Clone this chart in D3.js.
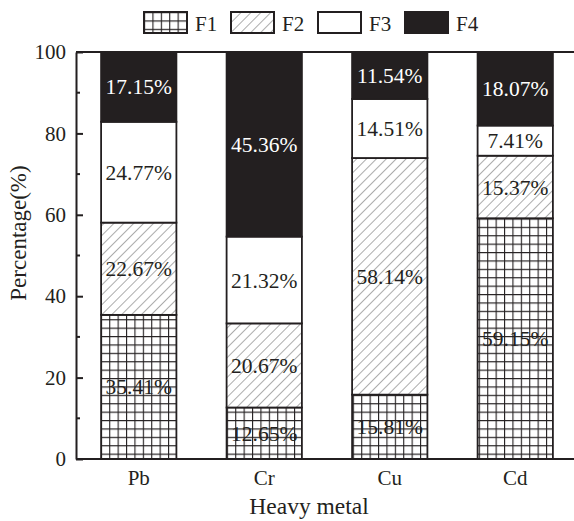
<!DOCTYPE html>
<html>
<head>
<meta charset="utf-8">
<script src="https://cdn.jsdelivr.net/npm/d3@7"></script>
<style>
  html, body { margin: 0; padding: 0; background: #fff; }
  svg { display: block; }
</style>
</head>
<body>
<svg id="chart" width="574" height="521"></svg>
<script>
// Fractions of each heavy metal (%), stacked F1..F4
const metals = ["Pb", "Cr", "Cu", "Cd"];
const fractions = ["F1", "F2", "F3", "F4"];
const f1 = [35.41, 12.65, 15.81, 59.15];
const f2 = [22.67, 20.67, 58.14, 15.37];
const f3 = [24.77, 21.32, 14.51, 7.41];
const f4 = [17.15, 45.36, 11.54, 18.07];
const yTicks = [0, 20, 40, 60, 80, 100];
const yMinorTicks = [10, 30, 50, 70, 90];

const ink = "#231f20";
const serif = '"Liberation Serif", "Times New Roman", serif';
const svg = d3.select("#chart");

const margin = { left: 76, top: 52, right: -4, bottom: 62 };
const W = 574, H = 521;

const x = d3.scaleBand()
  .domain(metals)
  .range([margin.left, W - margin.right])
  .paddingInner(0.4)
  .paddingOuter(0.2);
const y = d3.scaleLinear().domain([0, 100]).range([H - margin.bottom, margin.top]);

// Fill patterns
const defs = svg.append("defs");
const grid = defs.append("pattern")
  .attr("id", "grid").attr("patternUnits", "userSpaceOnUse")
  .attr("width", 8.4).attr("height", 8.4);
grid.append("rect").attr("width", 8.4).attr("height", 8.4).attr("fill", "#fff");
grid.append("path").attr("d", "M0,0.5H8.4M0.5,0V8.4")
  .attr("stroke", ink).attr("stroke-width", 1.2);

const hatch = defs.append("pattern")
  .attr("id", "hatch").attr("patternUnits", "userSpaceOnUse")
  .attr("width", 7).attr("height", 7)
  .attr("patternTransform", "rotate(45)");
hatch.append("rect").attr("width", 7).attr("height", 7).attr("fill", "#fff");
hatch.append("path").attr("d", "M0,0V7")
  .attr("stroke", "#5a5a5a").attr("stroke-width", 1);

const fills = { F1: "url(#grid)", F2: "url(#hatch)", F3: "#fff", F4: ink };
const textFill = { F1: ink, F2: ink, F3: ink, F4: "#fff" };

// Stack the series
const rows = metals.map((m, i) => ({ metal: m, F1: f1[i], F2: f2[i], F3: f3[i], F4: f4[i] }));
const stack = d3.stack().keys(fractions)(rows);

const layers = svg.append("g").selectAll("g")
  .data(stack).join("g");

layers.selectAll("rect")
  .data(s => s.map(d => ({ key: s.key, d })))
  .join("rect")
  .attr("x", o => x(o.d.data.metal))
  .attr("width", x.bandwidth())
  .attr("y", o => y(o.d[1]))
  .attr("height", o => y(o.d[0]) - y(o.d[1]))
  .attr("fill", o => fills[o.key])
  .attr("stroke", ink)
  .attr("stroke-width", 1.8);

layers.selectAll("text")
  .data(s => s.map(d => ({ key: s.key, d })))
  .join("text")
  .attr("x", o => x(o.d.data.metal) + x.bandwidth() / 2)
  .attr("y", o => (y(o.d[0]) + y(o.d[1])) / 2)
  .attr("dy", "0.35em")
  .attr("text-anchor", "middle")
  .style("font-family", serif)
  .style("font-size", "21.5px")
  .style("fill", o => textFill[o.key])
  .text(o => (o.d[1] - o.d[0]).toFixed(2) + "%");

// Frame
const frame = svg.append("g").attr("stroke", ink).attr("stroke-width", 2).attr("fill", "none");
frame.append("line").attr("x1", margin.left).attr("x2", W).attr("y1", y(100)).attr("y2", y(100));
frame.append("line").attr("x1", margin.left).attr("x2", W).attr("y1", y(0)).attr("y2", y(0));

// Y axis, ticks pointing inward
const yAxis = svg.append("g")
  .attr("transform", `translate(${margin.left},0)`)
  .call(d3.axisLeft(y).tickValues(yTicks).tickSizeInner(-7).tickSizeOuter(0).tickPadding(10));
yAxis.select(".domain").attr("stroke", ink).attr("stroke-width", 2);
yAxis.selectAll(".tick line").attr("stroke", ink).attr("stroke-width", 2);
yAxis.selectAll(".tick text")
  .style("font-family", serif).style("font-size", "21px").style("fill", ink);
svg.append("g").selectAll("line")
  .data(yMinorTicks).join("line")
  .attr("x1", margin.left).attr("x2", margin.left + 4)
  .attr("y1", d => y(d)).attr("y2", d => y(d))
  .attr("stroke", ink).attr("stroke-width", 2);

// X axis labels
const xAxis = svg.append("g")
  .attr("transform", `translate(0,${y(0)})`)
  .call(d3.axisBottom(x).tickSize(0).tickPadding(11));
xAxis.select(".domain").remove();
xAxis.selectAll(".tick text")
  .style("font-family", serif).style("font-size", "21px").style("fill", ink);

// Axis titles
svg.append("text")
  .attr("x", 309).attr("y", 514)
  .attr("text-anchor", "middle")
  .style("font-family", serif).style("font-size", "23.5px").style("fill", ink)
  .text("Heavy metal");
svg.append("text")
  .attr("transform", `translate(26,233) rotate(-90)`)
  .attr("text-anchor", "middle")
  .style("font-family", serif).style("font-size", "23px").style("fill", ink)
  .text("Percentage(%)");

// Legend
const legend = svg.append("g").selectAll("g")
  .data(fractions).join("g")
  .attr("transform", (d, i) => `translate(${144 + i * 87},12)`);
legend.append("rect")
  .attr("width", 43).attr("height", 21)
  .attr("fill", d => fills[d])
  .attr("stroke", ink).attr("stroke-width", 2);
legend.append("text")
  .attr("x", 51).attr("y", 18.5)
  .style("font-family", serif).style("font-size", "21px").style("fill", ink)
  .text(d => d);
</script>
</body>
</html>
